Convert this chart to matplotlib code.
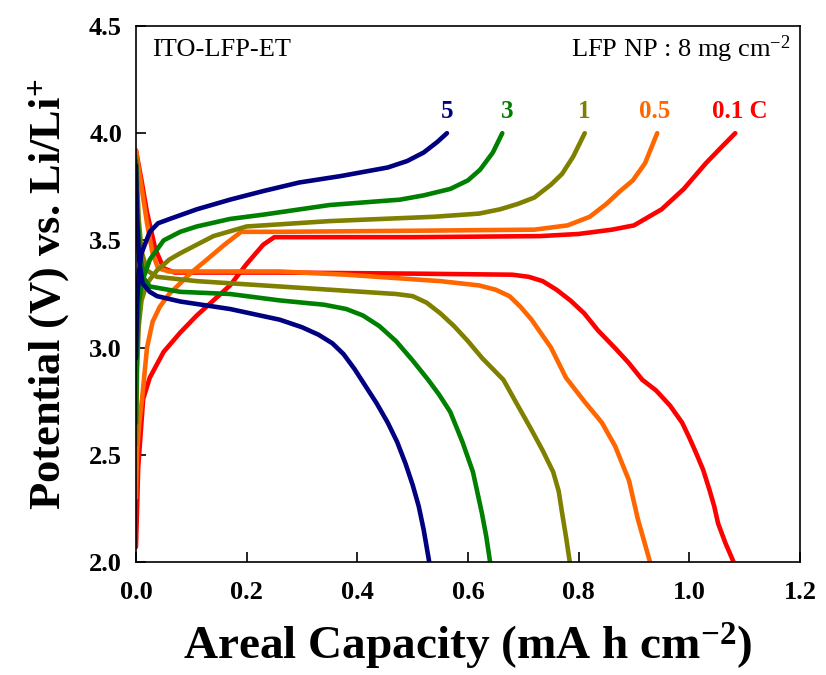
import numpy as np
import matplotlib.pyplot as plt

plt.rcParams['font.family'] = ['Liberation Serif', 'DejaVu Serif']
plt.rcParams['mathtext.fontset'] = 'custom'
plt.rcParams['mathtext.rm'] = 'Liberation Serif'

# rate labels and colours
rates = ['5', '3', '1', '0.5', '0.1 C']
colors = ['#000080', '#008000', '#808000', '#FF6600', '#FF0000']

# charge curves (capacity, potential)
chg_x_5 = [0, 0.002, 0.005, 0.01, 0.025, 0.04, 0.061, 0.11, 0.17, 0.23, 0.295, 0.37, 0.455, 0.49, 0.52, 0.545, 0.562]
chg_y_5 = [2.95, 3.2, 3.35, 3.44, 3.54, 3.58, 3.60, 3.645, 3.69, 3.73, 3.77, 3.80, 3.84, 3.87, 3.91, 3.96, 4.0]
chg_x_3 = [0, 0.002, 0.005, 0.01, 0.025, 0.05, 0.08, 0.11, 0.17, 0.23, 0.35, 0.477, 0.52, 0.568, 0.6, 0.622, 0.645, 0.662]
chg_y_3 = [2.65, 3.0, 3.2, 3.3, 3.41, 3.50, 3.54, 3.565, 3.60, 3.62, 3.665, 3.69, 3.71, 3.74, 3.78, 3.83, 3.91, 4.0]
chg_x_1 = [0, 0.002, 0.005, 0.01, 0.02, 0.038, 0.06, 0.08, 0.11, 0.14, 0.2, 0.26, 0.35, 0.537, 0.62, 0.658, 0.69, 0.72, 0.75, 0.77, 0.79, 0.811]
chg_y_1 = [2.55, 2.9, 3.1, 3.22, 3.3, 3.36, 3.41, 3.44, 3.48, 3.52, 3.565, 3.575, 3.59, 3.61, 3.625, 3.645, 3.67, 3.70, 3.76, 3.81, 3.89, 4.0]
chg_x_05 = [0, 0.002, 0.006, 0.011, 0.02, 0.03, 0.043, 0.06, 0.08, 0.1, 0.128, 0.16, 0.19, 0.26, 0.5, 0.72, 0.78, 0.82, 0.85, 0.875, 0.898, 0.92, 0.942]
chg_y_05 = [2.3, 2.52, 2.65, 2.76, 3.0, 3.12, 3.19, 3.25, 3.30, 3.35, 3.41, 3.48, 3.54, 3.54, 3.545, 3.55, 3.57, 3.61, 3.67, 3.73, 3.78, 3.86, 4.0]
chg_x_01 = [0, 0.002, 0.004, 0.013, 0.025, 0.05, 0.08, 0.11, 0.14, 0.17, 0.2, 0.23, 0.25, 0.3, 0.5, 0.73, 0.8, 0.86, 0.9, 0.95, 0.99, 1.03, 1.06, 1.083]
chg_y_01 = [2.07, 2.25, 2.44, 2.76, 2.86, 2.98, 3.07, 3.15, 3.22, 3.29, 3.39, 3.48, 3.515, 3.515, 3.515, 3.52, 3.53, 3.55, 3.57, 3.645, 3.74, 3.86, 3.94, 4.0]

# discharge curves
dis_x_5 = [0, 0.002, 0.006, 0.012, 0.025, 0.038, 0.08, 0.17, 0.26, 0.3, 0.33, 0.355, 0.375, 0.395, 0.415, 0.435, 0.455, 0.472, 0.487, 0.50, 0.511, 0.52, 0.53]
dis_y_5 = [3.85, 3.6, 3.4, 3.3, 3.26, 3.24, 3.215, 3.18, 3.13, 3.095, 3.06, 3.02, 2.97, 2.90, 2.82, 2.74, 2.65, 2.56, 2.46, 2.36, 2.26, 2.15, 2.0]
dis_x_3 = [0, 0.003, 0.008, 0.015, 0.025, 0.08, 0.17, 0.26, 0.34, 0.38, 0.41, 0.44, 0.47, 0.5, 0.528, 0.548, 0.568, 0.59, 0.609, 0.625, 0.633, 0.64]
dis_y_3 = [3.87, 3.6, 3.42, 3.32, 3.285, 3.26, 3.25, 3.22, 3.20, 3.18, 3.15, 3.10, 3.03, 2.94, 2.85, 2.78, 2.70, 2.56, 2.42, 2.23, 2.12, 2.0]
dis_x_1 = [0, 0.005, 0.01, 0.02, 0.038, 0.11, 0.23, 0.35, 0.47, 0.5, 0.525, 0.55, 0.575, 0.6, 0.626, 0.664, 0.69, 0.714, 0.735, 0.754, 0.764, 0.770, 0.777, 0.784]
dis_y_1 = [3.89, 3.6, 3.45, 3.36, 3.33, 3.31, 3.29, 3.27, 3.25, 3.24, 3.21, 3.16, 3.10, 3.03, 2.95, 2.85, 2.73, 2.62, 2.52, 2.42, 2.33, 2.23, 2.12, 2.0]
dis_x_05 = [0, 0.01, 0.02, 0.03, 0.04, 0.06, 0.26, 0.38, 0.55, 0.62, 0.65, 0.675, 0.695, 0.715, 0.75, 0.777, 0.81, 0.842, 0.866, 0.891, 0.907, 0.918, 0.929]
dis_y_05 = [3.92, 3.75, 3.58, 3.44, 3.37, 3.355, 3.355, 3.34, 3.31, 3.29, 3.27, 3.24, 3.19, 3.13, 3.00, 2.86, 2.75, 2.65, 2.54, 2.38, 2.2, 2.1, 2.0]
dis_x_01 = [0, 0.01, 0.02, 0.035, 0.05, 0.07, 0.26, 0.5, 0.68, 0.71, 0.735, 0.76, 0.785, 0.81, 0.835, 0.865, 0.89, 0.915, 0.94, 0.965, 0.987, 1.0, 1.012, 1.025, 1.036, 1.045, 1.052, 1.065, 1.08]
dis_y_01 = [3.92, 3.78, 3.63, 3.46, 3.37, 3.35, 3.35, 3.345, 3.34, 3.33, 3.31, 3.27, 3.22, 3.16, 3.08, 3.0, 2.93, 2.85, 2.80, 2.73, 2.65, 2.58, 2.51, 2.43, 2.34, 2.26, 2.18, 2.09, 2.0]

charge = [(chg_x_5, chg_y_5), (chg_x_3, chg_y_3), (chg_x_1, chg_y_1), (chg_x_05, chg_y_05), (chg_x_01, chg_y_01)]
discharge = [(dis_x_5, dis_y_5), (dis_x_3, dis_y_3), (dis_x_1, dis_y_1), (dis_x_05, dis_y_05), (dis_x_01, dis_y_01)]
label_x = [0.562, 0.67, 0.81, 0.938, 1.092]

fig = plt.figure(figsize=(8.26, 6.75), dpi=100)
ax = fig.add_axes([0.1646, 0.1674, 0.8039, 0.7941])

# draw the slowest rate first so faster rates sit on top
for i in reversed(range(len(rates))):
    ax.plot(*discharge[i], color=colors[i], lw=3.3, solid_joinstyle='round', solid_capstyle='round')
    ax.plot(*charge[i], color=colors[i], lw=3.3, solid_joinstyle='round', solid_capstyle='round')
    ax.text(label_x[i], 4.1, rates[i], color=colors[i], fontsize=18, fontweight='bold',
            ha='center', va='center')

ax.text(0.029, 4.39, 'ITO-LFP-ET', fontsize=19, ha='left', va='center')
ax.text(1.183, 4.39, 'LFP NP : 8 mg cm$\\mathregular{^{-2}}$', fontsize=19, ha='right', va='center')

ax.set_xlim(0, 1.2)
ax.set_ylim(2.0, 4.5)
ax.set_xticks(np.arange(0, 1.21, 0.2))
ax.set_yticks(np.arange(2.0, 4.51, 0.5))
ax.xaxis.set_major_formatter(plt.FormatStrFormatter('%.1f'))
ax.yaxis.set_major_formatter(plt.FormatStrFormatter('%.1f'))
ax.tick_params(direction='in', length=7, width=1.2, labelsize=19)
ax.tick_params(axis='x', pad=14)
ax.tick_params(axis='y', pad=10)
for lbl in ax.get_xticklabels() + ax.get_yticklabels():
    lbl.set_fontweight('bold')
for s in ax.spines.values():
    s.set_linewidth(1.2)

ax.set_xlabel('Areal Capacity (mA h cm$\\mathregular{^{-2}}$)', fontsize=34, fontweight='bold', labelpad=12)
ax.set_ylabel('Potential (V) vs. Li/Li$\\mathregular{^{+}}$', fontsize=32, fontweight='bold', labelpad=12)

plt.savefig('out.png', dpi=100)
